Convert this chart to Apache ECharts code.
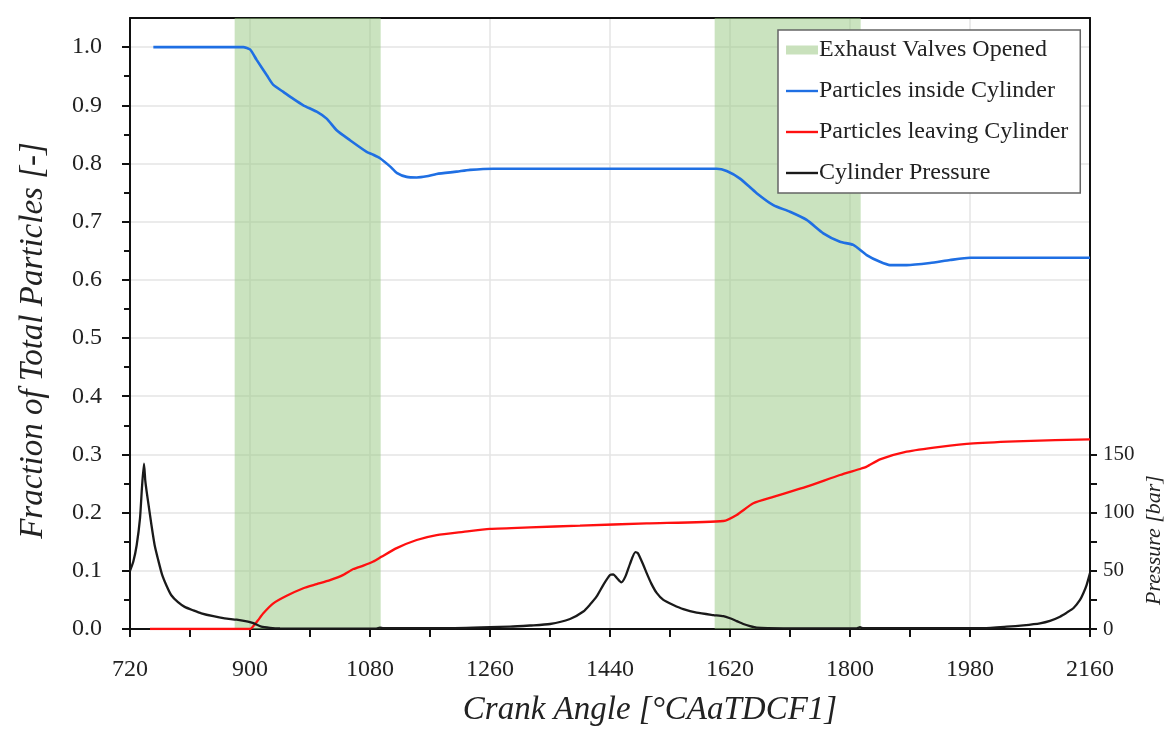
<!DOCTYPE html>
<html>
<head>
    <meta charset="utf-8">
    <script src="https://cdn.jsdelivr.net/npm/echarts@6/dist/echarts.min.js"></script>
</head>
<body style="margin:0">
    <div id="main" style="width:1168px; height:729px;"></div>
</body>
<script type="text/javascript">
    // exhaust valve open windows [°CA]
    const valveStart = [877, 1597];
    const valveEnd = [1096, 1816];

    // particles inside cylinder (fraction)
    const insideAngle = [755, 890, 900, 910, 925, 935, 950, 965, 980, 1000, 1015, 1030, 1050, 1075, 1085, 1095, 1110, 1120, 1135, 1150, 1165, 1180, 1210, 1230, 1265, 1600, 1615, 1635, 1660, 1685, 1710, 1735, 1760, 1785, 1805, 1825, 1845, 1860, 1885, 1920, 1950, 1980, 2160];
    const insideFrac = [1.0, 1.0, 0.996, 0.978, 0.952, 0.935, 0.923, 0.911, 0.900, 0.889, 0.877, 0.857, 0.840, 0.820, 0.815, 0.809, 0.795, 0.784, 0.777, 0.776, 0.778, 0.782, 0.786, 0.789, 0.791, 0.791, 0.787, 0.774, 0.749, 0.7285, 0.717, 0.703, 0.680, 0.6655, 0.66, 0.6426, 0.631, 0.6254, 0.6254, 0.629, 0.634, 0.638, 0.638];

    // particles leaving cylinder (fraction)
    const leavingAngle = [750, 900, 905, 912, 920, 935, 955, 980, 1000, 1020, 1040, 1055, 1070, 1085, 1097, 1120, 1150, 1180, 1220, 1260, 1320, 1395, 1495, 1610, 1630, 1655, 1685, 1735, 1785, 1815, 1825, 1845, 1885, 1935, 1985, 2060, 2160];
    const leavingFrac = [0, 0, 0.005, 0.015, 0.027, 0.044, 0.057, 0.070, 0.077, 0.084, 0.093, 0.103, 0.109, 0.116, 0.124, 0.139, 0.153, 0.1615, 0.167, 0.172, 0.1747, 0.1775, 0.1816, 0.1856, 0.196, 0.216, 0.227, 0.2446, 0.2646, 0.275, 0.279, 0.2915, 0.3047, 0.313, 0.319, 0.323, 0.326];

    // cylinder pressure [bar]
    const pressureAngle = [720, 725, 730, 735, 738, 741, 743, 745, 748, 752, 757, 762, 768, 775, 782, 792, 802, 815, 827, 845, 862, 880, 897, 905, 917, 930, 945, 1000, 1090, 1095, 1100, 1200, 1290, 1320, 1350, 1380, 1400, 1410, 1420, 1430, 1440, 1445, 1450, 1457, 1463, 1470, 1478, 1482, 1490, 1495, 1502, 1510, 1520, 1535, 1550, 1570, 1595, 1610, 1620, 1630, 1640, 1650, 1660, 1700, 1810, 1815, 1820, 2000, 2035, 2060, 2085, 2100, 2115, 2125, 2135, 2145, 2150, 2155, 2160];
    const pressureBar = [50, 58, 72, 95, 122, 142, 127, 118, 106, 90, 72, 60, 47, 37, 29, 23, 19, 16, 13.5, 11, 9.2, 8, 6.3, 5, 2, 1, 0.5, 0.3, 0.5, 1.2, 0.8, 0.8, 2, 3, 4.3, 8.6, 15, 21, 28, 38, 46.4, 47, 44, 40, 45, 56, 66, 65, 55, 48, 39, 31, 25, 20.6, 17, 14, 12, 11, 9.2, 6.8, 4.3, 2.5, 1.2, 0.6, 0.5, 1.5, 0.7, 0.8, 2, 3.2, 4.9, 7, 10.6, 14, 17.8, 25, 30.7, 38, 48];

    const fracTicks = [0, 0.1, 0.2, 0.3, 0.4, 0.5, 0.6, 0.7, 0.8, 0.9, 1.0];
    const pressureLabels = [0, 50, 100, 150];
    const pressureTicks = [0, 25, 50, 75, 100, 125, 150];

    const serif = 'Liberation Serif';
    const green = '#c9e1bc';
    const lineIcon = 'path://M0,0 L32,0 L32,2.4 L0,2.4 Z';

    const zip = (a, b) => a.map((v, i) => [v, b[i]]);

    const myChart = echarts.init(document.getElementById('main'));

    let option = {
        animation: false,
        textStyle: { fontFamily: serif },
        grid: { left: 130, right: 78, top: 18, bottom: 100, containLabel: false, outerBoundsMode: 'none' },
        legend: {
            orient: 'vertical',
            left: 778,
            top: 30,
            padding: [8, 12, 8, 8],
            itemGap: 17,
            itemWidth: 32,
            itemHeight: 9,
            symbolKeepAspect: true,
            backgroundColor: '#fff',
            borderColor: '#666',
            borderWidth: 1.5,
            textStyle: { fontFamily: serif, fontSize: 24, color: '#222', padding: [0, 0, 0, -4] },
            data: [
                { name: 'Exhaust Valves Opened', icon: 'rect', itemStyle: { color: green } },
                { name: 'Particles inside Cylinder', icon: lineIcon, itemStyle: { color: '#1f6fe3' } },
                { name: 'Particles leaving Cylinder', icon: lineIcon, itemStyle: { color: '#ff1010' } },
                { name: 'Cylinder Pressure', icon: lineIcon, itemStyle: { color: '#1a1a1a' } }
            ]
        },
        xAxis: [
            {
                type: 'value',
                min: 720,
                max: 2160,
                interval: 180,
                name: 'Crank Angle [°CAaTDCF1]',
                nameLocation: 'middle',
                nameGap: 65,
                nameTextStyle: { fontFamily: serif, fontStyle: 'italic', fontSize: 33, color: '#222', padding: [0, 0, 0, 80] },
                axisLine: { lineStyle: { color: '#111', width: 2 } },
                axisTick: { length: 8, lineStyle: { color: '#111', width: 2 } },
                minorTick: { show: true, splitNumber: 2, length: 8, lineStyle: { color: '#111', width: 2 } },
                axisLabel: { fontFamily: serif, fontSize: 24, color: '#222', margin: 29, formatter: v => String(v) },
                splitLine: { show: true, lineStyle: { color: '#e4e4e4', width: 1.5 } }
            },
            {
                type: 'value',
                position: 'top',
                min: 720,
                max: 2160,
                axisLine: { show: true, onZero: false, lineStyle: { color: '#111', width: 2 } },
                axisTick: { show: false },
                axisLabel: { show: false },
                splitLine: { show: false }
            }
        ],
        yAxis: [
            {
                type: 'value',
                min: 0,
                max: 1.05,
                interval: 0.1,
                name: 'Fraction of Total Particles [-]',
                nameLocation: 'middle',
                nameGap: 80,
                nameTextStyle: { fontFamily: serif, fontStyle: 'italic', fontSize: 33, color: '#222', padding: [0, 34, 0, 0] },
                axisLine: { show: true, lineStyle: { color: '#111', width: 2 } },
                axisTick: { show: true, length: 8, customValues: fracTicks, lineStyle: { color: '#111', width: 2 } },
                minorTick: { show: true, splitNumber: 2, length: 6, lineStyle: { color: '#111', width: 2 } },
                axisLabel: {
                    fontFamily: serif, fontSize: 24, color: '#222', margin: 28,
                    customValues: fracTicks,
                    formatter: v => v.toFixed(1)
                },
                splitLine: { show: true, lineStyle: { color: '#e4e4e4', width: 1.5 } }
            },
            {
                type: 'value',
                min: 0,
                max: 525,
                position: 'right',
                axisLine: { show: true, lineStyle: { color: '#111', width: 2 } },
                axisTick: { show: true, length: 7, customValues: pressureTicks, lineStyle: { color: '#111', width: 2 } },
                axisLabel: { fontFamily: serif, fontSize: 21, color: '#222', margin: 13, customValues: pressureLabels },
                splitLine: { show: false }
            }
        ],
        graphic: [
            {
                type: 'text',
                x: 1154,
                y: 540,
                rotation: Math.PI / 2,
                style: {
                    text: 'Pressure [bar]',
                    font: 'italic 22px "Liberation Serif"',
                    fill: '#222',
                    align: 'center',
                    verticalAlign: 'middle'
                }
            }
        ],
        series: [
            {
                name: 'Exhaust Valves Opened',
                type: 'line',
                data: [],
                itemStyle: { color: green },
                lineStyle: { color: green },
                markArea: {
                    silent: true,
                    itemStyle: { color: 'rgb(150,200,128)', opacity: 0.5 },
                    data: valveStart.map((s, i) => [{ xAxis: s }, { xAxis: valveEnd[i] }])
                }
            },
            {
                name: 'Particles inside Cylinder',
                type: 'line',
                symbol: 'none',
                smooth: 0.2,
                color: '#1f6fe3',
                lineStyle: { width: 2.6, color: '#1f6fe3' },
                data: zip(insideAngle, insideFrac)
            },
            {
                name: 'Particles leaving Cylinder',
                type: 'line',
                symbol: 'none',
                smooth: 0.2,
                color: '#ff1010',
                lineStyle: { width: 2.3, color: '#ff1010' },
                data: zip(leavingAngle, leavingFrac)
            },
            {
                name: 'Cylinder Pressure',
                type: 'line',
                yAxisIndex: 1,
                symbol: 'none',
                smooth: 0.2,
                color: '#1a1a1a',
                lineStyle: { width: 2.3, color: '#1a1a1a' },
                data: zip(pressureAngle, pressureBar)
            }
        ]
    };
    option && myChart.setOption(option);
</script>
</html>
